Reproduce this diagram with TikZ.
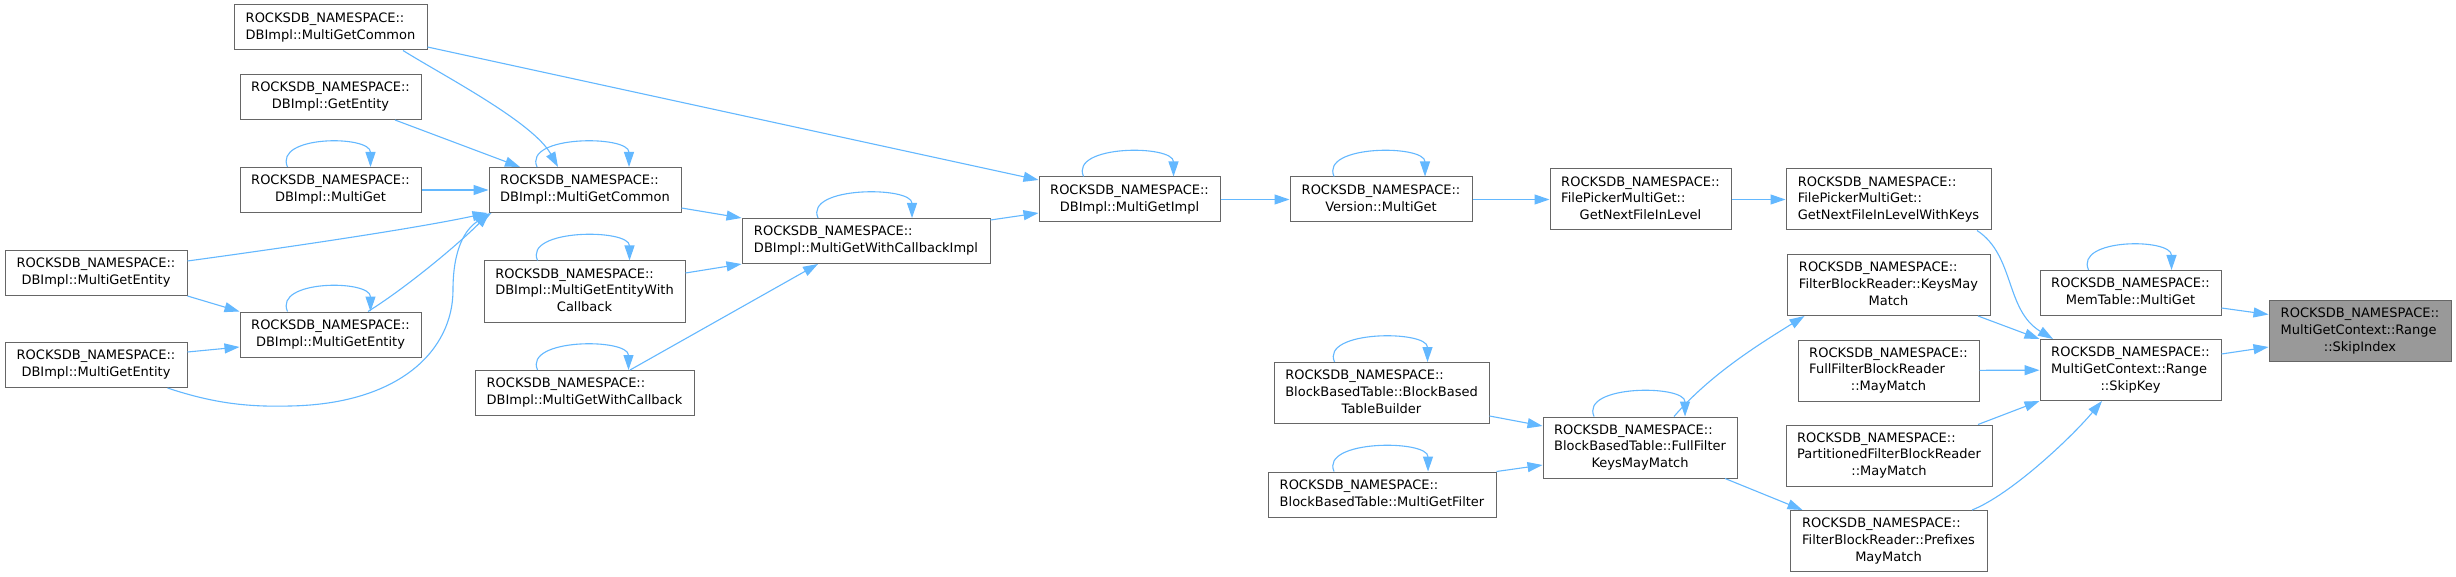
\documentclass[tikz,border=0pt]{standalone}
\usepackage{fontspec}
\setmainfont{DejaVu Sans}
\usepackage{tikz}
\usetikzlibrary{arrows.meta,positioning}
\definecolor{edgeblue}{RGB}{99,184,255}
\definecolor{boxgrey}{RGB}{102,102,102}
\definecolor{focusgrey}{RGB}{153,153,153}
\tikzstyle{arrow} = [line width=1.1pt,-{Triangle[length=15pt,width=10pt]},color=edgeblue]
\tikzstyle{func} = [rectangle, draw=boxgrey, fill=white, line width=1pt, inner sep=0pt, minimum height=45pt, font=\fontsize{13}{16.7}\selectfont]
\tikzstyle{functall} = [func, minimum height=61pt]
\tikzstyle{focus} = [functall, fill=focusgrey]
\newcommand{\rns}{ROCKSDB\_NAMESPACE::}
\newcommand{\lbltwo}[1]{\begin{tabular}{@{}l@{}}\rns\\\multicolumn{1}{@{}c@{}}{#1}\end{tabular}}
\newcommand{\lblthree}[2]{\begin{tabular}{@{}l@{}}\rns\\#1\\\multicolumn{1}{@{}c@{}}{#2}\end{tabular}}

\begin{document}
\begin{tikzpicture}[x=1pt, y=-1pt]
    \path[fill=white, use as bounding box] (0,0) rectangle (2456,577);

    % DBImpl callers
    \node[func, minimum width=193pt] (mgctop) at (330.5,27.5) {\lbltwo{DBImpl::MultiGetCommon}};
    \node[func, minimum width=181pt] (getentity) at (330.5,97) {\lbltwo{DBImpl::GetEntity}};
    \node[func, minimum width=181pt] (dbmultiget) at (330.5,190) {\lbltwo{DBImpl::MultiGet}};
    \node[func, minimum width=182pt] (mgeleft1) at (96,273) {\lbltwo{DBImpl::MultiGetEntity}};
    \node[func, minimum width=181pt] (mgemid) at (330.5,334.5) {\lbltwo{DBImpl::MultiGetEntity}};
    \node[func, minimum width=182pt] (mgeleft2) at (96,365) {\lbltwo{DBImpl::MultiGetEntity}};
    \node[func, minimum width=192pt] (mgc) at (585,190) {\lbltwo{DBImpl::MultiGetCommon}};
    \node[functall, minimum width=201pt] (mgewc) at (584.5,291.5) {\lblthree{DBImpl::MultiGetEntityWith}{Callback}};
    \node[func, minimum width=219pt] (mgwc) at (584.5,393) {\lbltwo{DBImpl::MultiGetWithCallback}};
    \node[func, minimum width=248pt] (mgwci) at (866,241) {\lbltwo{DBImpl::MultiGetWithCallbackImpl}};
    \node[func, minimum width=181pt] (mgimpl) at (1129.5,199.5) {\lbltwo{DBImpl::MultiGetImpl}};

    % Version and file picker
    \node[func, minimum width=182pt] (version) at (1381,199.5) {\lbltwo{Version::MultiGet}};
    \node[functall, minimum width=181pt] (fpgnf) at (1640.5,199.5) {\lblthree{FilePickerMultiGet::}{GetNextFileInLevel}};
    \node[functall, minimum width=205pt] (fpgnfk) at (1888.5,199.5) {\lblthree{FilePickerMultiGet::}{GetNextFileInLevelWithKeys}};

    % Filter readers
    \node[functall, minimum width=215pt] (bbtbuilder) at (1381.5,393) {\lblthree{BlockBasedTable::BlockBased}{TableBuilder}};
    \node[func, minimum width=228pt] (bbtmgfilter) at (1382,494.5) {\lbltwo{BlockBasedTable::MultiGetFilter}};
    \node[functall, minimum width=194pt] (ffkmm) at (1640,447.5) {\lblthree{BlockBasedTable::FullFilter}{KeysMayMatch}};
    \node[functall, minimum width=203pt] (keysmay) at (1888.5,285) {\lblthree{FilterBlockReader::KeysMay}{Match}};
    \node[functall, minimum width=181pt] (fullfbr) at (1888.5,370.5) {\lblthree{FullFilterBlockReader}{::MayMatch}};
    \node[functall, minimum width=206pt] (partfbr) at (1889,455.5) {\lblthree{PartitionedFilterBlockReader}{::MayMatch}};
    \node[functall, minimum width=197pt] (prefixes) at (1888.5,541) {\lblthree{FilterBlockReader::Prefixes}{MayMatch}};

    % Range and target
    \node[func, minimum width=181pt] (memtable) at (2130.5,293) {\lbltwo{MemTable::MultiGet}};
    \node[functall, minimum width=181pt] (skipkey) at (2130.5,370) {\lblthree{MultiGetContext::Range}{::SkipKey}};
    \node[focus, minimum width=182pt] (skipindex) at (2360,331) {\lblthree{MultiGetContext::Range}{::SkipIndex}};

    % Self calls
    \draw[arrow] ([xshift=-43]dbmultiget.north) .. controls +(-14,-32) and +(0,-32) .. ([xshift=40]dbmultiget.north);
    \draw[arrow] ([xshift=-48]mgc.north) .. controls +(-14,-32) and +(0,-32) .. ([xshift=44]mgc.north);
    \draw[arrow] ([xshift=-43]mgemid.north) .. controls +(-14,-32) and +(0,-32) .. ([xshift=40]mgemid.north);
    \draw[arrow] ([xshift=-47]mgewc.north) .. controls +(-14,-32) and +(0,-32) .. ([xshift=45]mgewc.north);
    \draw[arrow] ([xshift=-47]mgwc.north) .. controls +(-14,-32) and +(0,-32) .. ([xshift=44]mgwc.north);
    \draw[arrow] ([xshift=-48]mgwci.north) .. controls +(-14,-32) and +(0,-32) .. ([xshift=46]mgwci.north);
    \draw[arrow] ([xshift=-46]mgimpl.north) .. controls +(-14,-32) and +(0,-32) .. ([xshift=44]mgimpl.north);
    \draw[arrow] ([xshift=-47]version.north) .. controls +(-14,-32) and +(0,-32) .. ([xshift=44]version.north);
    \draw[arrow] ([xshift=-47]bbtbuilder.north) .. controls +(-14,-32) and +(0,-32) .. ([xshift=46]bbtbuilder.north);
    \draw[arrow] ([xshift=-48]bbtmgfilter.north) .. controls +(-14,-32) and +(0,-32) .. ([xshift=46]bbtmgfilter.north);
    \draw[arrow] ([xshift=-46]ffkmm.north) .. controls +(-14,-32) and +(0,-32) .. ([xshift=45]ffkmm.north);
    \draw[arrow] ([xshift=-42]memtable.north) .. controls +(-14,-32) and +(0,-32) .. ([xshift=41]memtable.north);

    % Calls into MultiGetCommon
    \draw[arrow] ([xshift=72.5]mgctop.south) .. controls +(40,25) and +(-25,-45) .. ([xshift=-27]mgc.north);
    \draw[arrow] ([xshift=64.5]getentity.south) -- ([xshift=-65]mgc.north);
    \draw[arrow] (dbmultiget) -- (mgc);
    \draw[arrow] ([yshift=12]mgeleft1.east) .. controls +(110,-15) and +(-70,15) .. ([xshift=-1]mgc.south west);
    \draw[arrow] ([xshift=37.5]mgemid.north) .. controls +(40,-25) and +(-30,30) .. ([xshift=1]mgc.south west);
    \draw[arrow] ([xshift=-20]mgeleft2.south east) .. controls +(48,16) and +(-40,1) .. (290,406)
        .. controls +(110,-2) and +(0,60) .. (453,290) .. controls +(0,-40) and +(-27,16) .. ([xshift=3]mgc.south west);
    \draw[arrow] (mgeleft1.south east) -- (mgemid.north west);
    \draw[arrow] ([yshift=13]mgeleft2.east) -- ([yshift=-12.5]mgemid.west);

    % Calls into MultiGetWithCallbackImpl and MultiGetImpl
    \draw[arrow] ([yshift=-18]mgc.east) -- ([yshift=23]mgwci.west);
    \draw[arrow] ([yshift=18.5]mgewc.east) -- (mgwci.south west);
    \draw[arrow] ([xshift=45.5]mgwc.north) -- ([xshift=-48]mgwci.south);
    \draw[arrow] ([yshift=21]mgwci.east) -- ([yshift=-13.5]mgimpl.west);
    \draw[arrow] ([yshift=-19.5]mgctop.east) -- ([yshift=19.5]mgimpl.west);
    \draw[arrow] (mgimpl) -- (version);
    \draw[arrow] (version) -- (fpgnf);
    \draw[arrow] (fpgnf) -- (fpgnfk);

    % Filter chain
    \draw[arrow] ([yshift=-23]bbtbuilder.east) -- ([yshift=21.5]ffkmm.west);
    \draw[arrow] (bbtmgfilter.north east) -- ([yshift=-17.5]ffkmm.west);
    \draw[arrow] ([xshift=34]ffkmm.north) .. controls +(36,-42) and +(-45,28) .. ([xshift=18]keysmay.south west);
    \draw[arrow] ([xshift=85]ffkmm.south) -- ([xshift=13]prefixes.north west);

    % Calls into SkipKey
    \draw[arrow] ([xshift=88.5]fpgnfk.south) .. controls +(38,25) and +(-48,-29) .. ([xshift=-77.5]skipkey.north);
    \draw[arrow] ([xshift=89.5]keysmay.south) -- (skipkey.north west);
    \draw[arrow] (fullfbr) -- (skipkey);
    \draw[arrow] ([xshift=89]partfbr.north) -- (skipkey.south west);
    \draw[arrow] ([xshift=83.5]prefixes.north) .. controls +(38,-15) and +(-32,38) .. ([xshift=-28.5]skipkey.south);

    % Calls into SkipIndex
    \draw[arrow] ([yshift=-15]memtable.east) -- ([yshift=16.5]skipindex.west);
    \draw[arrow] ([yshift=16]skipkey.east) -- ([yshift=-16]skipindex.west);
\end{tikzpicture}
\end{document}
